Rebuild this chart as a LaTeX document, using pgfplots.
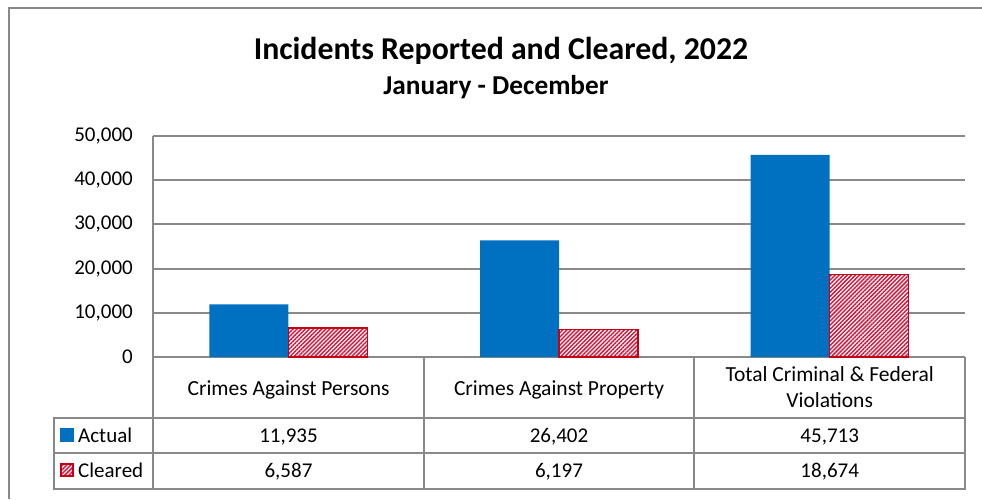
\documentclass[border=0pt]{standalone}
\usepackage{fontspec}
\setmainfont{Carlito}
\usepackage{pgfplots}
\usepackage{pgfplotstable}
\pgfplotsset{compat=1.18}
\usetikzlibrary{patterns.meta}

\definecolor{actualblue}{RGB}{0,112,192}
\definecolor{clearedred}{RGB}{200,0,20}
\definecolor{hatchred}{RGB}{220,20,60}
\definecolor{gridgray}{RGB}{137,137,137}

\pgfkeys{/pgf/number format/.cd,fixed,1000 sep={,},assume math mode=true}

\pgfplotstableread{
x actual cleared
0.5 11935 6587
1.5 26402 6197
2.5 45713 18674
}\incidents

\begin{document}
\begin{tikzpicture}[x=1pt,y=-1pt]
\useasboundingbox (0,0) rectangle (982,499);
% outer frame (only top and left visible)
\draw[gridgray,line width=2pt] (9,499) -- (9,8) -- (982,8);
\node[font=\fontsize{31.8}{38}\selectfont\bfseries,anchor=base] at (501,59) {Incidents Reported and Cleared, 2022};
\node[font=\fontsize{27.3}{33}\selectfont\bfseries,anchor=base] at (496,94) {January - December};

\begin{axis}[
  at={(153pt,-357pt)}, anchor=south west,
  scale only axis, width=812pt, height=221pt,
  xmin=0, xmax=3, ymin=0, ymax=50000,
  ybar=0pt, bar width=79pt,
  xtick=\empty,
  ytick={0,10000,...,50000},
  scaled y ticks=false,
  yticklabel style={font=\fontsize{21}{25}\selectfont, inner sep=0pt, xshift=-20pt,
    /pgf/number format/.cd, fixed, 1000 sep={,}, assume math mode=true},
  ymajorgrids, grid style={gridgray,line width=2pt},
  major tick length=0pt,
  axis line style={draw=none},
  clip=false,
]
\addplot[fill=actualblue, draw=none] table[x=x,y=actual]{\incidents};
\addplot[draw=clearedred, line width=1.5pt, preaction={fill=white},
  pattern={Lines[angle=45,distance=2.9pt,line width=1.45pt]},
  pattern color=hatchred] table[x=x,y=cleared]{\incidents};
\end{axis}

% data table grid
\draw[gridgray,line width=2pt] (153,136) -- (153,489);
\foreach \xx in {424,694,965} \draw[gridgray,line width=2pt] (\xx,357) -- (\xx,489);
\foreach \yy in {418,453,489} \draw[gridgray,line width=2pt] (53,\yy) -- (966,\yy);
\draw[gridgray,line width=2pt] (54,418) -- (54,489);

\begin{scope}[font=\fontsize{21.5}{25}\selectfont]
\node[anchor=base] at (288.5,395) {Crimes Against Persons};
\node[anchor=base] at (559,395) {Crimes Against Property};
\node[anchor=base] at (829.7,381) {Total Criminal \& Federal};
\node[anchor=base] at (829.7,407) {Violations};
\end{scope}

\begin{scope}[font=\fontsize{21}{25}\selectfont]
\foreach \r/\xx in {0/288.5,1/559,2/829.7} {
  \pgfplotstablegetelem{\r}{actual}\of\incidents
  \node[anchor=base] at (\xx,442) {\pgfmathprintnumber{\pgfplotsretval}};
  \pgfplotstablegetelem{\r}{cleared}\of\incidents
  \node[anchor=base] at (\xx,477) {\pgfmathprintnumber{\pgfplotsretval}};
}

% legend keys in the table
\fill[actualblue] (60,428) rectangle (74,442);
\node[anchor=base west,inner sep=0pt] at (78,442) {Actual};
\draw[clearedred,line width=1.5pt,preaction={fill=white},
  pattern={Lines[angle=45,distance=2.9pt,line width=1.45pt]},
  pattern color=hatchred] (61,464) rectangle (73,476);
\node[anchor=base west,inner sep=0pt] at (78,477) {Cleared};
\end{scope}
\end{tikzpicture}
\end{document}
